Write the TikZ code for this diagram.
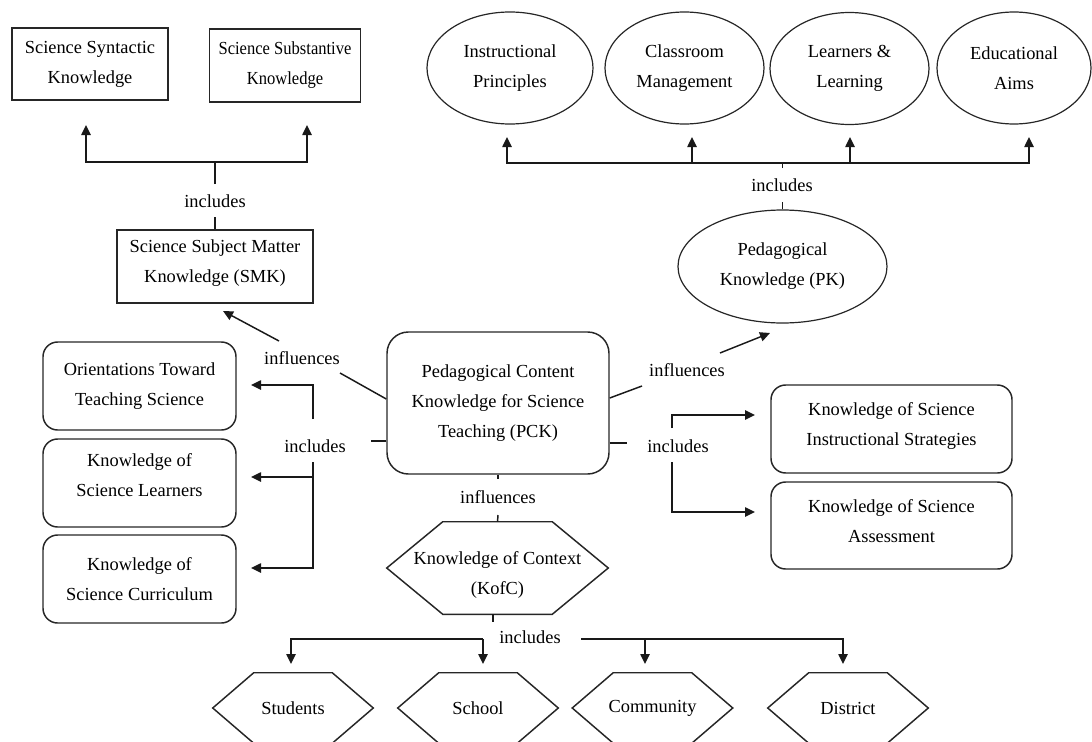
\documentclass[tikz,border=0pt]{standalone}
\usepackage{fontspec}
\setmainfont{Liberation Serif}
\newfontfamily\narrowserif[FakeStretch=0.9]{Liberation Serif}
\usetikzlibrary{shapes.geometric,arrows.meta,calc}
\newcommand\hexoutline[2]{%
  \draw[shapeline] (#1.west) -- ($(#1.north west)+(#2,0)$) -- ($(#1.north east)+(-#2,0)$)
    -- (#1.east) -- ($(#1.south east)+(-#2,0)$) -- ($(#1.south west)+(#2,0)$) -- cycle;}
\begin{document}
\begin{tikzpicture}[x=0.75pt,y=-0.75pt,
  font=\fontsize{13.8}{22.5}\selectfont,
  shapeline/.style={draw=black!85, line width=1.1pt},
  line/.style={draw=black!90, line width=1.1pt},
  arr/.style={line, -{Triangle[length=7.5pt,width=7pt]}},
  box/.style={shapeline, rectangle, inner sep=0pt, align=center},
  rbox/.style={box, rounded corners=11pt},
  ell/.style={draw=black!85, line width=0.9pt, ellipse, inner sep=0pt, align=center},
  hexbase/.style={inner sep=0pt, align=center},
  lbl/.style={inner sep=0pt},
  txt/.style={inner sep=0pt, align=center}
]
\useasboundingbox (0,0) rectangle (1092,742);

% ---- top-left boxes
\node[box, minimum width=117pt, minimum height=54pt] (syn) at (90,64) {Science Syntactic\\Knowledge};
\node[box, minimum width=113pt, minimum height=54.75pt, font=\narrowserif\fontsize{13.8}{22.5}\selectfont] (sub) at (285,65.5) {Science Substantive\\Knowledge};
\node[box, minimum width=147pt, minimum height=54.75pt,
  label={[txt, yshift=2.5pt]center:{Science Subject Matter\\Knowledge (SMK)}}] (smk) at (215,266.5) {};

% ---- top ellipses
\node[ell, minimum width=124.5pt, minimum height=84pt] (ip) at (510,68) {Instructional\\Principles};
\node[ell, minimum width=119.25pt, minimum height=84pt] (cm) at (684.5,68) {Classroom\\Management};
\node[ell, minimum width=119.25pt, minimum height=84pt] (ll) at (849.5,68.5) {Learners \&\\Learning};
\node[ell, minimum width=115.5pt, minimum height=84pt] (ea) at (1014,68) {Educational\\Aims};
\node[ell, minimum width=156.75pt, minimum height=84.75pt] (pk) at (782.5,266.5) {Pedagogical\\Knowledge (PK)};

% ---- centre
\node[box, rounded corners=16pt, minimum width=166.5pt, minimum height=106.5pt] (pck) at (498,403)
  {Pedagogical Content\\Knowledge for Science\\Teaching (PCK)};

% ---- left boxes
\node[rbox, minimum width=144.75pt, minimum height=66pt] (ori) at (139.5,386) {Orientations Toward\\Teaching Science};
\node[rbox, minimum width=144.75pt, minimum height=66pt,
  label={[txt, yshift=6pt]center:{Knowledge of\\Science Learners}}] (lea) at (139.5,483) {};
\node[rbox, minimum width=144.75pt, minimum height=66pt] (cur) at (139.5,579) {Knowledge of\\Science Curriculum};

% ---- right boxes
\node[rbox, minimum width=180.75pt, minimum height=66pt,
  label={[txt, yshift=2pt]center:{Knowledge of Science\\Instructional Strategies}}] (ins) at (891.5,429) {};
\node[rbox, minimum width=180.75pt, minimum height=65.25pt,
  label={[txt, yshift=3.5pt]center:{Knowledge of Science\\Assessment}}] (ass) at (891.5,525.5) {};

% ---- hexagons
\node[hexbase, minimum width=165.75pt, minimum height=69pt,
  label={[txt, yshift=-5.5pt]center:{Knowledge of Context\\(KofC)}}] (kofc) at (497.5,568) {};
\hexoutline{kofc}{56}
\node[hexbase, minimum width=120pt, minimum height=52.5pt] (stu) at (293,708) {Students};
\hexoutline{stu}{41}
\node[hexbase, minimum width=120pt, minimum height=52.5pt] (sch) at (478,708) {School};
\hexoutline{sch}{41}
\node[hexbase, minimum width=120pt, minimum height=52.5pt] (com) at (652.5,708) {Community};
\hexoutline{com}{41}
\node[hexbase, minimum width=120pt, minimum height=52.5pt] (dis) at (848,708) {District};
\hexoutline{dis}{41}

% ---- connector labels
\node[lbl] (l1) at (215,201) {includes};
\node[lbl] (l2) at (782,185) {includes};
\node[lbl] (l3) at (302,358) {influences};
\node[lbl] (l4) at (687,370) {influences};
\node[lbl] (l5) at (315,446) {includes};
\node[lbl] (l6) at (678,446) {includes};
\node[lbl] (l7) at (498,497) {influences};
\node[lbl] (l8) at (530,637) {includes};

% ---- A: SMK includes
\coordinate (a1) at (215,217);
\coordinate (a2) at (215,184);
\coordinate (a3) at (215,162);
\coordinate (a4) at (86,125);
\coordinate (a5) at (307,125);
\draw[line] (smk.north) -- (a1);
\draw[line] (a2) -- (a3);
\draw[arr] (a3) -| (a4);
\draw[arr] (a3) -| (a5);

% ---- B: PK includes
\coordinate (b1) at (782.5,202);
\coordinate (b2) at (782.5,168);
\coordinate (b3) at (782.5,163);
\coordinate (b4) at (507,137);
\coordinate (b5) at (692,137);
\coordinate (b6) at (850,137);
\coordinate (b7) at (1029,137);
\draw[line] (pk.north) -- (b1);
\draw[line] (b2) -- (b3);
\draw[arr] (b3) -| (b4);
\draw[arr] (b3) -| (b7);
\draw[arr] (b3 -| b5) -- (b5);
\draw[arr] (b3 -| b6) -- (b6);

% ---- C: PCK influences SMK
\coordinate (c1) at (340,373);
\coordinate (c2) at (279,341);
\coordinate (c3) at (223,311);
\draw[line] ($(pck.west)+(0,-4)$) -- (c1);
\draw[arr] (c2) -- (c3);

% ---- D: PCK influences PK
\coordinate (d1) at (642,386);
\coordinate (d2) at (720,353);
\coordinate (d3) at (770,333);
\draw[line] ($(pck.east)+(0,-5)$) -- (d1);
\draw[arr] (d2) -- (d3);

% ---- E: PCK includes (left)
\coordinate (e1) at (371,441);
\coordinate (e2) at (313,419);
\coordinate (e3) at (251,385);
\coordinate (e4) at (313,462);
\coordinate (e5) at (251,477);
\coordinate (e6) at (251,568);
\draw[line] ($(pck.west)+(0,38)$) -- (e1);
\draw[arr] (e2) |- (e3);
\draw[arr] (e4) |- (e6);
\draw[arr] (e4 |- e5) -- (e5);

% ---- F: PCK includes (right)
\coordinate (f1) at (627,443);
\coordinate (f2) at (672,428);
\coordinate (f3) at (755,415);
\coordinate (f4) at (672,462);
\coordinate (f5) at (755,512);
\draw[line] ($(pck.east)+(0,40)$) -- (f1);
\draw[arr] (f2) |- (f3);
\draw[arr] (f4) |- (f5);

% ---- G: PCK influences KofC
\coordinate (g1) at (498,479);
\coordinate (g2) at (498,515);
\draw[line] (pck.south) -- (g1);
\draw[line] (g2) -- (kofc.north);

% ---- H: KofC includes
\coordinate (h1) at (493,622);
\coordinate (h3) at (483,639);
\coordinate (h4) at (291,664);
\coordinate (h5) at (483,664);
\coordinate (h6) at (581,639);
\coordinate (h7) at (645,664);
\coordinate (h8) at (843,664);
\draw[line] ($(kofc.south)+(-4.5,0)$) -- (h1);
\draw[arr] (h3) -| (h4);
\draw[arr] (h3) -- (h5);
\draw[arr] (h6) -| (h8);
\draw[arr] (h6 -| h7) -- (h7);
\end{tikzpicture}
\end{document}
